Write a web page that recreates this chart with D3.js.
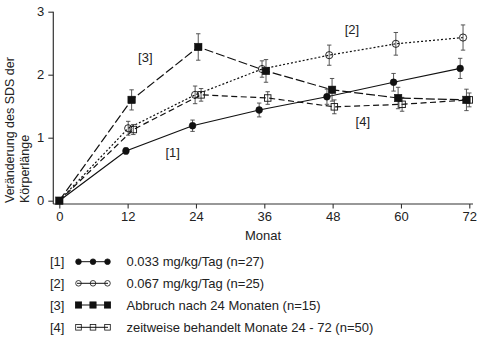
<!DOCTYPE html>
<html><head><meta charset="utf-8">
<script src="https://cdn.jsdelivr.net/npm/d3@7"></script>
<style>
body{margin:0;background:#fff;}
svg{display:block;font-family:"Liberation Sans",Arial,sans-serif;}
</style></head><body>
<svg id="c" width="484" height="348"></svg>
<script>
// Data (x = month as plotted, slightly jittered as in the original figure)
const xTicks = [0, 12, 24, 36, 48, 60, 72];
const yTicks = [0, 1, 2, 3];
const s1x = [0, 11.7, 23.4, 35.1, 47.0, 58.7, 70.4];
const s1y = [0, 0.79, 1.19, 1.44, 1.65, 1.88, 2.10];
const s1e = [0, 0.05, 0.09, 0.11, 0.12, 0.14, 0.16];
const s2x = [0, 12.1, 23.85, 35.6, 47.4, 59.1, 70.9];
const s2y = [0, 1.15, 1.68, 2.09, 2.31, 2.49, 2.59];
const s2e = [0, 0.11, 0.14, 0.13, 0.16, 0.18, 0.20];
const s3x = [0, 12.7, 24.4, 36.3, 47.9, 59.5, 71.5];
const s3y = [0, 1.60, 2.44, 2.06, 1.76, 1.63, 1.60];
const s3e = [0, 0.16, 0.21, 0.18, 0.18, 0.17, 0.17];
const s4x = [0, 13.0, 24.9, 36.6, 48.3, 60.2, 72.0];
const s4y = [0, 1.13, 1.68, 1.63, 1.49, 1.53, 1.60];
const s4e = [0, 0.08, 0.10, 0.10, 0.11, 0.11, 0.11];
const seriesLabels = ["[1]", "[2]", "[3]", "[4]"];
const legendTexts = ["0.033 mg/kg/Tag (n=27)", "0.067 mg/kg/Tag (n=25)", "Abbruch nach 24 Monaten (n=15)", "zeitweise behandelt Monate 24 - 72 (n=50)"];
const annot = [{t:"[1]", x:19.9, y:0.76}, {t:"[2]", x:51.4, y:2.71}, {t:"[3]", x:15.1, y:2.28}, {t:"[4]", x:53.3, y:1.25}];

const svg = d3.select("#c");
const x = d3.scaleLinear().domain([0, 72]).range([59.3, 469.3]);
const y = d3.scaleLinear().domain([0, 3]).range([200.7, 11.7]);
const axisColor = "#333";
const txt = "#222";

// axes
const gx = svg.append("g").attr("transform", "translate(0,204)")
  .call(d3.axisBottom(x).tickValues(xTicks).tickFormat(d3.format("d")).tickSize(4.5).tickPadding(3));
const gy = svg.append("g").attr("transform", "translate(53.3,0)")
  .call(d3.axisLeft(y).tickValues(yTicks).tickFormat(d3.format("d")).tickSize(5).tickPadding(4));
[gx, gy].forEach(g => {
  g.select(".domain").remove();
  g.selectAll("line").attr("stroke", axisColor).attr("stroke-width", 1.1);
  g.selectAll("text").attr("fill", txt).style("font-size", "13px").style("font-family", '"Liberation Sans",Arial,sans-serif');
});
svg.append("line").attr("x1", 53.3).attr("x2", 473).attr("y1", 204).attr("y2", 204).attr("stroke", axisColor).attr("stroke-width", 1.2);
svg.append("line").attr("x1", 53.3).attr("x2", 53.3).attr("y1", y(3)).attr("y2", 204).attr("stroke", axisColor).attr("stroke-width", 1.2);

// axis titles
svg.append("text").attr("x", 263).attr("y", 240).attr("text-anchor", "middle").attr("fill", txt).style("font-size", "13px").text("Monat");
const yl = svg.append("g").attr("transform", "translate(0,203) rotate(-90)");
yl.append("text").attr("x", 0).attr("y", 14).attr("fill", txt).style("font-size", "12.5px").text("Veränderung des SDS der");
yl.append("text").attr("x", 0).attr("y", 29).attr("fill", txt).style("font-size", "12.5px").text("Körperlänge");

const series = [
  {xs:s1x, ys:s1y, es:s1e, dash:null, shape:"circle", fill:"#111"},
  {xs:s2x, ys:s2y, es:s2e, dash:"2,2", shape:"circle", fill:"none"},
  {xs:s3x, ys:s3y, es:s3e, dash:"9,3", shape:"square", fill:"#111"},
  {xs:s4x, ys:s4y, es:s4e, dash:"6,3.5", shape:"square", fill:"none"}
];

const line = d3.line().x(d => x(d[0])).y(d => y(d[1]));
const order = [3, 1, 0, 2];
order.forEach(i => {
  const s = series[i];
  const pts = s.xs.map((v, k) => [v, s.ys[k], s.es[k]]);
  const g = svg.append("g");
  g.append("path").attr("d", line(pts)).attr("fill", "none").attr("stroke", "#111")
    .attr("stroke-width", 1.2).attr("stroke-dasharray", s.dash);
  // error bars
  pts.slice(1).forEach(p => {
    const cx = x(p[0]);
    g.append("line").attr("x1", cx).attr("x2", cx).attr("y1", y(p[1] - p[2])).attr("y2", y(p[1] + p[2])).attr("stroke", "#444").attr("stroke-width", 0.9);
    [p[1] - p[2], p[1] + p[2]].forEach(v => g.append("line").attr("x1", cx - 2.2).attr("x2", cx + 2.2).attr("y1", y(v)).attr("y2", y(v)).attr("stroke", "#444").attr("stroke-width", 0.9));
  });
  // markers
  pts.forEach((p, k) => {
    if (k === 0 && i !== 2) return;
    const cx = x(p[0]), cy = y(p[1]);
    if (s.shape === "circle") {
      g.append("circle").attr("cx", cx).attr("cy", cy).attr("r", s.fill === "none" ? 3.6 : 3.4)
        .attr("fill", s.fill).attr("stroke", "#111").attr("stroke-width", s.fill === "none" ? 0.9 : 0.5);
    } else {
      const sz = s.fill === "none" ? 6.5 : 7.5;
      g.append("rect").attr("x", cx - sz / 2).attr("y", cy - sz / 2).attr("width", sz).attr("height", sz)
        .attr("fill", s.fill).attr("stroke", "#111").attr("stroke-width", s.fill === "none" ? 0.9 : 0.5);
    }
  });
});

// in-plot labels
annot.forEach(a => svg.append("text").attr("x", x(a.x)).attr("y", y(a.y)).attr("text-anchor", "middle")
  .attr("dominant-baseline", "central").attr("fill", txt).style("font-size", "13px").text(a.t));

// legend
const legY = [261.7, 283.3, 305, 327.3];
series.forEach((s, i) => {
  const cy = legY[i];
  const g = svg.append("g");
  g.append("text").attr("x", 50).attr("y", cy).attr("dominant-baseline", "central").attr("fill", txt).style("font-size", "13px").text(seriesLabels[i]);
  g.append("line").attr("x1", 77).attr("x2", 108).attr("y1", cy).attr("y2", cy).attr("stroke", "#111").attr("stroke-width", 1);
  [78.5, 93, 107.5].forEach(mx => {
    if (s.shape === "circle") {
      g.append("circle").attr("cx", mx).attr("cy", cy).attr("r", 2.8)
        .attr("fill", s.fill).attr("stroke", "#111").attr("stroke-width", 0.8);
    } else {
      const sz = s.fill === "none" ? 5.6 : 6.2;
      g.append("rect").attr("x", mx - sz / 2).attr("y", cy - sz / 2).attr("width", sz).attr("height", sz)
        .attr("fill", s.fill).attr("stroke", "#111").attr("stroke-width", 0.8);
    }
  });
  g.append("text").attr("x", 126.5).attr("y", cy).attr("dominant-baseline", "central").attr("fill", txt).style("font-size", "13px").text(legendTexts[i]);
});
</script>
</body></html>
